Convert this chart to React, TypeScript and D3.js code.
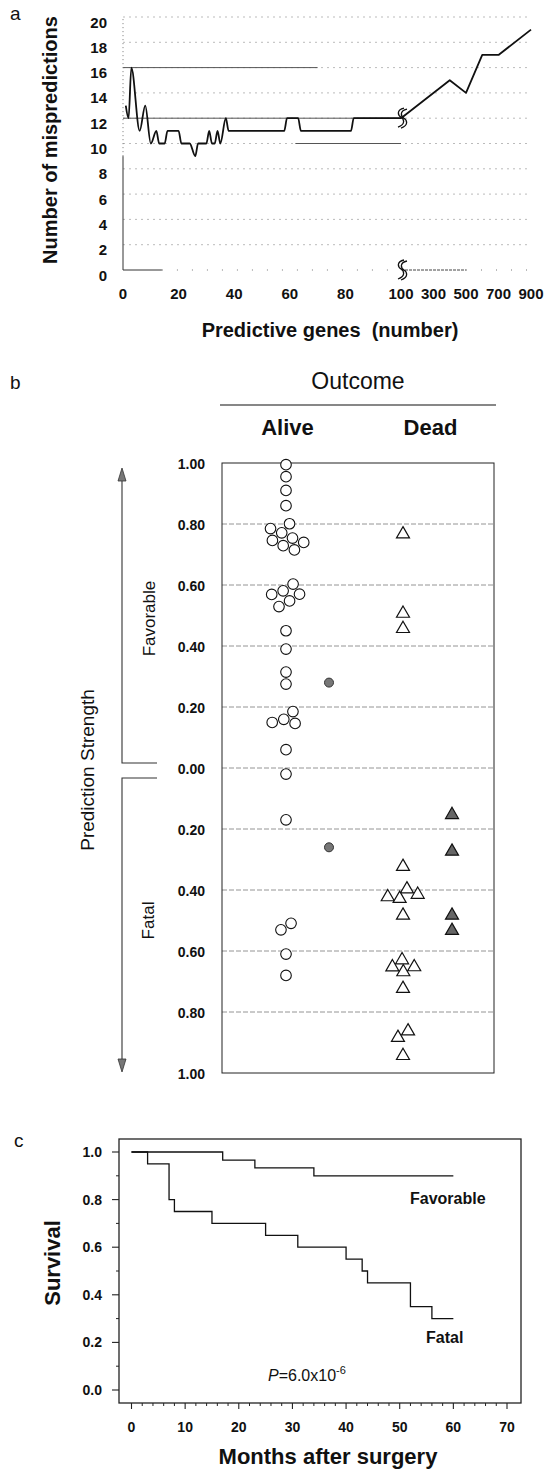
import React, { useEffect, useRef } from 'react';
import * as d3 from 'd3';

const FONT = '"Liberation Sans", Arial, sans-serif';

// panel a: mispredictions vs number of predictive genes
const geneCounts = [1, 2, 3, 6, 8, 10, 12, 13, 15, 16, 20, 21, 24, 26, 27, 30, 31, 32, 33, 34, 35, 37, 38, 58, 59, 63, 64, 82, 83, 100, 400, 500, 600, 700, 900];
const mispredictions = [13, 12, 16, 11, 13, 10, 11, 10, 10, 11, 11, 10, 10, 9, 10, 10, 11, 10, 10, 11, 10, 12, 11, 11, 12, 12, 11, 11, 12, 12, 15, 14, 17, 17, 19];
const geneTicks = [0, 20, 40, 60, 80, 100, 300, 500, 700, 900];
const mispredTicks = [0, 2, 4, 6, 8, 10, 12, 14, 16, 18, 20];

// panel b: prediction strength (positive = favorable, negative = fatal)
const outcomes = ['Alive', 'Dead'];
const aliveOpen = [0.99, 0.96, 0.91, 0.86, 0.8, 0.78, 0.77, 0.75, 0.75, 0.74, 0.73, 0.72, 0.6, 0.57, 0.58, 0.57, 0.55, 0.53, 0.45, 0.39, 0.31, 0.28, 0.18, 0.16, 0.15, 0.15, 0.06, -0.02, -0.17, -0.51, -0.53, -0.61, -0.68];
const aliveFilled = [0.28, -0.26];
const deadOpen = [0.77, 0.51, 0.46, -0.32, -0.4, -0.42, -0.41, -0.42, -0.48, -0.65, -0.66, -0.63, -0.65, -0.72, -0.86, -0.88, -0.94];
const deadFilled = [-0.15, -0.27, -0.48, -0.53];
const strengthTicks = [1, 0.8, 0.6, 0.4, 0.2, 0, -0.2, -0.4, -0.6, -0.8, -1];

// panel c: Kaplan-Meier survival
const favTimes = [0, 17, 23, 34, 60];
const favSurv = [1, 0.966, 0.933, 0.9, 0.9];
const fatalTimes = [0, 3, 7, 8, 15, 25, 31, 40, 43, 44, 52, 56, 60];
const fatalSurv = [1, 0.95, 0.8, 0.75, 0.7, 0.65, 0.6, 0.55, 0.5, 0.45, 0.35, 0.3, 0.3];
const monthTicks = [0, 10, 20, 30, 40, 50, 60, 70];
const survTicks = [0, 0.2, 0.4, 0.6, 0.8, 1];

const breakPath = 'M3,-10 C-5,-8 -3,-3 0,-1 C3,1 5,6 -3,9 M6,-9 C-2,-7 0,-2 3,0 C6,2 8,7 0,10';

function drawA(svg) {
  const g = svg.append('g');
  const xA = d3.scaleLinear().domain([0, 100, 900]).range([123, 401, 531]);
  const yA = d3.scaleLinear().domain([0, 20]).range([270, 17]);

  g.append('text').attr('x', 10).attr('y', 20).attr('font-size', 19).text('a');

  // faint gridlines
  g.selectAll('line.grid').data(mispredTicks.filter(d => d > 0)).join('line')
    .attr('x1', xA(0)).attr('x2', xA(900))
    .attr('y1', d => yA(d)).attr('y2', d => yA(d))
    .attr('stroke', '#aaa').attr('stroke-width', 0.8).attr('stroke-dasharray', '2,4');
  // darker gridline runs
  [[16, 0, 70], [12, 0, 100], [10, 62, 100]].forEach(([v, a, b]) => {
    g.append('line').attr('x1', xA(a)).attr('x2', xA(b)).attr('y1', yA(v)).attr('y2', yA(v))
      .attr('stroke', '#555').attr('stroke-width', 1);
  });

  // axes
  g.append('line').attr('x1', xA(0)).attr('x2', xA(0)).attr('y1', yA(0)).attr('y2', yA(9))
    .attr('stroke', '#333').attr('stroke-width', 1);
  g.append('line').attr('x1', xA(0)).attr('x2', xA(0)).attr('y1', yA(9)).attr('y2', yA(20))
    .attr('stroke', '#777').attr('stroke-width', 1).attr('stroke-dasharray', '1,3');
  g.append('line').attr('x1', xA(0)).attr('x2', xA(14)).attr('y1', yA(0)).attr('y2', yA(0))
    .attr('stroke', '#333').attr('stroke-width', 1);
  g.append('line').attr('x1', xA(14)).attr('x2', xA(98)).attr('y1', yA(0)).attr('y2', yA(0))
    .attr('stroke', '#777').attr('stroke-width', 1).attr('stroke-dasharray', '1,14');
  g.append('line').attr('x1', xA(100) + 4).attr('x2', xA(500)).attr('y1', yA(0)).attr('y2', yA(0))
    .attr('stroke', '#444').attr('stroke-width', 1).attr('stroke-dasharray', '3,1');
  g.append('line').attr('x1', xA(500)).attr('x2', xA(900)).attr('y1', yA(0)).attr('y2', yA(0))
    .attr('stroke', '#777').attr('stroke-width', 1).attr('stroke-dasharray', '1,14');

  // data line: smoothed up to 100 genes, straight segments beyond the break
  const pts = geneCounts.map((n, i) => [xA(n), yA(mispredictions[i])]);
  const cut = geneCounts.indexOf(100);
  const smooth = d3.line().curve(d3.curveMonotoneX);
  const straight = d3.line();
  g.append('path').attr('d', smooth(pts.slice(0, cut + 1))).attr('fill', 'none')
    .attr('stroke', '#111').attr('stroke-width', 1.8).attr('stroke-linejoin', 'round');
  g.append('path').attr('d', straight(pts.slice(cut))).attr('fill', 'none')
    .attr('stroke', '#111').attr('stroke-width', 1.8).attr('stroke-linejoin', 'round');

  // axis breaks
  [12, 0].forEach(v => {
    g.append('path').attr('d', breakPath)
      .attr('transform', `translate(${xA(100)},${yA(v)})`)
      .attr('fill', 'none').attr('stroke', '#111').attr('stroke-width', 1.3);
  });

  // tick labels
  g.selectAll('text.yt').data(mispredTicks).join('text')
    .attr('x', 107).attr('y', d => yA(d) + 5)
    .attr('text-anchor', 'end').attr('dominant-baseline', 'central')
    .attr('font-size', 15).attr('font-weight', 'bold').text(d => d);
  g.selectAll('text.xt').data(geneTicks).join('text')
    .attr('x', d => xA(d)).attr('y', 299)
    .attr('text-anchor', 'middle')
    .attr('font-size', 15).attr('font-weight', 'bold').text(d => d);

  g.append('text').attr('transform', 'translate(50,140) rotate(-90)')
    .attr('text-anchor', 'middle').attr('dominant-baseline', 'central')
    .attr('font-size', 20).attr('font-weight', 'bold').text('Number of mispredictions');
  g.append('text').attr('x', 330).attr('y', 337).attr('text-anchor', 'middle')
    .attr('font-size', 20).attr('font-weight', 'bold').attr('xml:space', 'preserve')
    .text('Predictive genes  (number)');
}

function drawB(svg) {
  const g = svg.append('g');
  const left = 222, right = 494;
  const yB = d3.scaleLinear().domain([-1, 1]).range([1073, 463]);
  const xCol = d3.scaleOrdinal<string, number>()
    .domain(['aliveOpen', 'aliveFilled', 'deadOpen', 'deadFilled'])
    .range([286, 329, 403, 452]);
  const xHead = d3.scaleBand().domain(outcomes).range([216, 502]);

  g.append('text').attr('x', 10).attr('y', 389).attr('font-size', 19).text('b');

  g.append('text').attr('x', 358).attr('y', 389).attr('text-anchor', 'middle')
    .attr('font-size', 23).text('Outcome');
  g.append('line').attr('x1', 220).attr('x2', 496).attr('y1', 405).attr('y2', 405)
    .attr('stroke', '#111').attr('stroke-width', 1.2);
  g.selectAll('text.head').data(outcomes).join('text')
    .attr('x', d => xHead(d) + xHead.bandwidth() / 2).attr('y', 435)
    .attr('text-anchor', 'middle').attr('font-size', 22).attr('font-weight', 'bold')
    .text(d => d);

  // gridlines
  g.selectAll('line.grid').data(strengthTicks.filter(d => Math.abs(d) < 1)).join('line')
    .attr('x1', left).attr('x2', right).attr('y1', d => yB(d)).attr('y2', d => yB(d))
    .attr('stroke', '#888').attr('stroke-width', 0.9).attr('stroke-dasharray', '5,2');

  g.append('rect').attr('x', left).attr('y', yB(1)).attr('width', right - left)
    .attr('height', yB(-1) - yB(1)).attr('fill', 'none').attr('stroke', '#222').attr('stroke-width', 1);

  g.selectAll('text.yt').data(strengthTicks).join('text')
    .attr('x', 205).attr('y', d => yB(d) + 1)
    .attr('text-anchor', 'end').attr('dominant-baseline', 'central')
    .attr('font-size', 14).attr('font-weight', 'bold')
    .text(d => d3.format('.2f')(Math.abs(d)));

  // beeswarm layout
  const nodes = [];
  const add = (vals, group) => vals.forEach(v => nodes.push({ v, group, x: xCol(group), y: yB(v) }));
  add(aliveOpen, 'aliveOpen');
  add(aliveFilled, 'aliveFilled');
  add(deadOpen, 'deadOpen');
  add(deadFilled, 'deadFilled');
  const sim = d3.forceSimulation(nodes)
    .force('x', d3.forceX(d => xCol(d.group)).strength(0.06))
    .force('y', d3.forceY(d => yB(d.v)).strength(1))
    .force('c', d3.forceCollide(6))
    .stop();
  for (let i = 0; i < 300; i++) sim.tick();

  const tri = 'M0,-6.5 L6.5,4.8 L-6.5,4.8 Z';
  nodes.forEach(n => {
    if (n.group === 'aliveOpen') {
      g.append('circle').attr('cx', n.x).attr('cy', n.y).attr('r', 5.3)
        .attr('fill', '#fff').attr('stroke', '#111').attr('stroke-width', 1.1);
    } else if (n.group === 'aliveFilled') {
      g.append('circle').attr('cx', n.x).attr('cy', n.y).attr('r', 4.5)
        .attr('fill', '#777').attr('stroke', '#333').attr('stroke-width', 1);
    } else {
      g.append('path').attr('d', tri).attr('transform', `translate(${n.x},${n.y})`)
        .attr('fill', n.group === 'deadFilled' ? '#666' : '#fff')
        .attr('stroke', '#111').attr('stroke-width', 1.2).attr('stroke-linejoin', 'miter');
    }
  });

  // favorable / fatal brackets with arrows
  const ax = 122, bx = 157;
  g.append('path').attr('d', `M${bx},${yB(0) - 5} H${ax} V${yB(1) + 16}`)
    .attr('fill', 'none').attr('stroke', '#333').attr('stroke-width', 1.1);
  g.append('path').attr('d', `M${bx},${yB(0) + 10} H${ax} V${yB(-1) - 12}`)
    .attr('fill', 'none').attr('stroke', '#333').attr('stroke-width', 1.1);
  g.append('path').attr('d', `M${ax},${yB(1) + 5} L${ax + 4},${yB(1) + 18} L${ax - 4},${yB(1) + 18} Z`)
    .attr('fill', '#777').attr('stroke', '#333').attr('stroke-width', 0.8);
  g.append('path').attr('d', `M${ax},${yB(-1) - 1} L${ax + 4},${yB(-1) - 14} L${ax - 4},${yB(-1) - 14} Z`)
    .attr('fill', '#777').attr('stroke', '#333').attr('stroke-width', 0.8);

  g.append('text').attr('transform', `translate(87,${yB(0) + 2}) rotate(-90)`)
    .attr('text-anchor', 'middle').attr('dominant-baseline', 'central')
    .attr('font-size', 19).text('Prediction Strength');
  g.append('text').attr('transform', `translate(149,${yB(0.49)}) rotate(-90)`)
    .attr('text-anchor', 'middle').attr('dominant-baseline', 'central')
    .attr('font-size', 17).text('Favorable');
  g.append('text').attr('transform', `translate(148,${yB(-0.5)}) rotate(-90)`)
    .attr('text-anchor', 'middle').attr('dominant-baseline', 'central')
    .attr('font-size', 17).text('Fatal');
}

function drawC(svg) {
  const g = svg.append('g');
  const left = 119, right = 521, top = 1139, bottom = 1403;
  const xC = d3.scaleLinear().domain([0, 70]).range([131.5, 507]);
  const yC = d3.scaleLinear().domain([0, 1]).range([1390, 1152]);

  g.append('text').attr('x', 14).attr('y', 1147).attr('font-size', 19).text('c');

  g.append('rect').attr('x', left).attr('y', top).attr('width', right - left).attr('height', bottom - top)
    .attr('fill', 'none').attr('stroke', '#222').attr('stroke-width', 1.3);

  // y ticks
  g.selectAll('line.ym').data(survTicks).join('line')
    .attr('x1', left - 7).attr('x2', left).attr('y1', d => yC(d)).attr('y2', d => yC(d))
    .attr('stroke', '#222').attr('stroke-width', 1.1);
  g.selectAll('line.yn').data(d3.range(0.1, 1, 0.2)).join('line')
    .attr('x1', left - 3).attr('x2', left).attr('y1', d => yC(d)).attr('y2', d => yC(d))
    .attr('stroke', '#222').attr('stroke-width', 1);
  g.selectAll('text.yt').data(survTicks).join('text')
    .attr('x', 102).attr('y', d => yC(d))
    .attr('text-anchor', 'end').attr('dominant-baseline', 'central')
    .attr('font-size', 14).attr('font-weight', 'bold').text(d => d3.format('.1f')(d));

  // x ticks
  g.selectAll('line.xm').data(monthTicks).join('line')
    .attr('x1', d => xC(d)).attr('x2', d => xC(d)).attr('y1', bottom).attr('y2', bottom + 6)
    .attr('stroke', '#222').attr('stroke-width', 1.1);
  g.selectAll('line.xn').data(d3.range(2, 72, 2).filter(d => d % 10 !== 0)).join('line')
    .attr('x1', d => xC(d)).attr('x2', d => xC(d)).attr('y1', bottom).attr('y2', bottom + 3)
    .attr('stroke', '#222').attr('stroke-width', 1);
  g.selectAll('text.xt').data(monthTicks).join('text')
    .attr('x', d => xC(d)).attr('y', 1432).attr('text-anchor', 'middle')
    .attr('font-size', 14).attr('font-weight', 'bold').text(d => d);

  const step = d3.line<number>().curve(d3.curveStepAfter);
  g.append('path').attr('d', step(favTimes.map((t, i) => [xC(t), yC(favSurv[i])])))
    .attr('fill', 'none').attr('stroke', '#111').attr('stroke-width', 1.3);
  g.append('path').attr('d', step(fatalTimes.map((t, i) => [xC(t), yC(fatalSurv[i])])))
    .attr('fill', 'none').attr('stroke', '#111').attr('stroke-width', 1.3);

  g.append('text').attr('x', 410).attr('y', 1204).attr('font-size', 16).attr('font-weight', 'bold').text('Favorable');
  g.append('text').attr('x', 426).attr('y', 1343).attr('font-size', 16).attr('font-weight', 'bold').text('Fatal');

  const p = g.append('text').attr('x', 268).attr('y', 1381).attr('font-size', 16);
  p.append('tspan').attr('font-style', 'italic').text('P');
  p.append('tspan').text('=6.0x10');
  p.append('tspan').attr('font-size', 11).attr('dy', -7).text('-6');

  g.append('text').attr('transform', 'translate(52,1263) rotate(-90)')
    .attr('text-anchor', 'middle').attr('dominant-baseline', 'central')
    .attr('font-size', 22).attr('font-weight', 'bold').text('Survival');
  g.append('text').attr('x', 328).attr('y', 1464).attr('text-anchor', 'middle')
    .attr('font-size', 22).attr('font-weight', 'bold').text('Months after surgery');
}

export default function App() {
  const ref = useRef<SVGSVGElement>(null);

  useEffect(() => {
    const svg = d3.select(ref.current);
    svg.selectAll('*').remove();
    svg.attr('font-family', FONT).attr('fill', '#111');
    drawA(svg);
    drawB(svg);
    drawC(svg);
  }, []);

  return (
    <svg ref={ref} width={547} height={1469}
      style={{ position: 'absolute', left: 0, top: 0, display: 'block', background: '#fff' }} />
  );
}
